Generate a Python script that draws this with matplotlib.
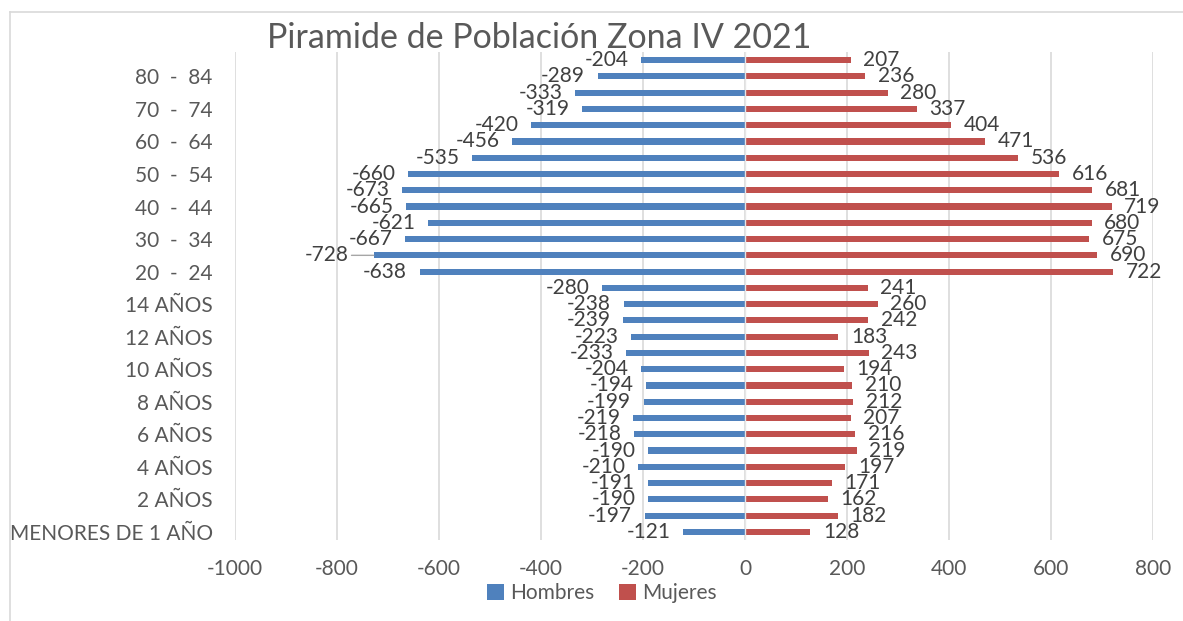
import numpy as np
import matplotlib.pyplot as plt
from matplotlib.lines import Line2D

# categories bottom -> top
grupos = ["MENORES DE 1 AÑO", "1 AÑO", "2 AÑOS", "3 AÑOS", "4 AÑOS", "5 AÑOS",
          "6 AÑOS", "7 AÑOS", "8 AÑOS", "9 AÑOS", "10 AÑOS", "11 AÑOS",
          "12 AÑOS", "13 AÑOS", "14 AÑOS", "15  -  19", "20  -  24", "25  -  29",
          "30  -  34", "35  -  39", "40  -  44", "45  -  49", "50  -  54",
          "55  -  59", "60  -  64", "65  -  69", "70  -  74", "75  -  79",
          "80  -  84", "85 Y MÁS"]
hombres = [-121, -197, -190, -191, -210, -190, -218, -219, -199, -194, -204,
           -233, -223, -239, -238, -280, -638, -728, -667, -621, -665, -673,
           -660, -535, -456, -420, -319, -333, -289, -204]
mujeres = [128, 182, 162, 171, 197, 219, 216, 207, 212, 210, 194, 243, 183,
           242, 260, 241, 722, 690, 675, 680, 719, 681, 616, 536, 471, 404,
           337, 280, 236, 207]
xticks = [-1000, -800, -600, -400, -200, 0, 200, 400, 600, 800]

FONT = "Lato"
TXT = "#404040"
AZUL = "#4f81bd"
ROJO = "#c0504d"
GRID = "#d9d9d9"

fig = plt.figure(figsize=(11.83, 6.21), dpi=100)
ax = fig.add_axes([235/1183, 1-540/621, (1153-235)/1183, (540-52)/621])

y = np.arange(len(grupos))
ax.barh(y, hombres, height=0.38, color=AZUL, zorder=2, label="Hombres")
ax.barh(y, mujeres, height=0.38, color=ROJO, zorder=2, label="Mujeres")

ax.set_xlim(-1000, 800)
ax.set_ylim(-0.5, len(grupos)-0.5)
ax.set_xticks(xticks)
ax.set_xticklabels([str(t) for t in xticks], fontsize=15, color="#595959", family=FONT)
ax.set_yticks(y[::2])
ax.set_yticklabels(grupos[::2], fontsize=15, color="#595959", family=FONT)
ax.tick_params(axis="x", length=0, pad=14)
ax.tick_params(axis="y", length=0, pad=16)
for s in ax.spines.values():
    s.set_visible(False)
ax.grid(axis="x", color=GRID, lw=1.2, zorder=0)
ax.axvline(0, color="#e6e6e6", lw=1, zorder=3)

# data labels
imin = int(np.argmin(hombres))
for i, (h, m) in enumerate(zip(hombres, mujeres)):
    if i == imin:
        ax.annotate(str(h), xy=(h, i), xytext=(-18, 0), textcoords="offset points",
                    ha="right", va="center", fontsize=15, color=TXT, family=FONT,
                    arrowprops=dict(arrowstyle="-", color="#a6a6a6", lw=1,
                                    shrinkA=0, shrinkB=0))
    else:
        ax.annotate(str(h), xy=(h, i), xytext=(-9, 0), textcoords="offset points",
                    ha="right", va="center", fontsize=15, color=TXT, family=FONT)
    ax.annotate(str(m), xy=(m, i), xytext=(9, 0), textcoords="offset points",
                ha="left", va="center", fontsize=15, color=TXT, family=FONT)

fig.text(539/1183, 1-38/621, "Piramide de Población Zona IV 2021", ha="center",
         va="center", fontsize=24.5, color="#595959", family=FONT)

leg = fig.legend(loc="center", bbox_to_anchor=(602/1183, 1-593/621), ncol=2,
                 frameon=False, handlelength=0.8, handleheight=0.8,
                 handletextpad=0.3, columnspacing=1.2,
                 prop={"family": FONT, "size": 15})
for t in leg.get_texts():
    t.set_color("#595959")

# chart frame (left and top edges visible)
fig.add_artist(Line2D([10/1183, 10/1183], [0, 1-12/621], color=GRID, lw=1.2))
fig.add_artist(Line2D([10/1183, 1], [1-12/621, 1-12/621], color=GRID, lw=1.2))

fig.savefig("out.png", dpi=100)
